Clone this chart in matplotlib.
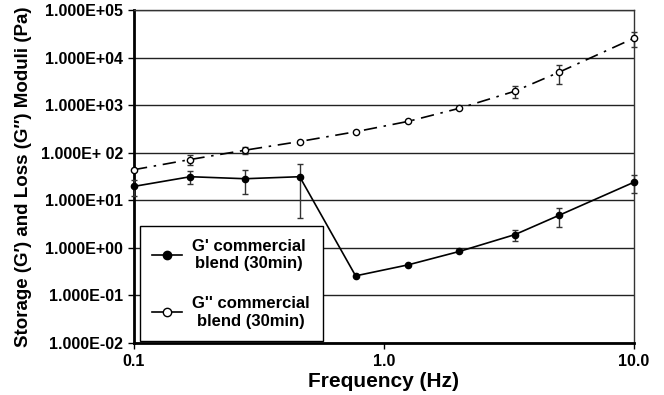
import matplotlib.pyplot as plt
from matplotlib.lines import Line2D
from matplotlib.ticker import FixedLocator, NullLocator

plt.rcParams['font.family'] = ['Liberation Sans', 'DejaVu Sans']
plt.rcParams['font.weight'] = 'bold'

# frequency (Hz)
freq = [0.1, 0.168, 0.278, 0.46, 0.77, 1.25, 2.0, 3.34, 5.0, 10.0]
# storage modulus G' and its error
g1 = [19.6, 31.3, 28.4, 31.3, 0.258, 0.44, 0.84, 1.9, 4.8, 24.0]
g1_err = [7.5, 9.5, 15, 27, 0, 0, 0, 0.5, 2.0, 10]
# loss modulus G'' and its error
g2 = [44, 72, 113, 172, 276, 456, 858, 1966, 4890, 25600]
g2_err = [0, 17, 21, 0, 0, 0, 0, 530, 2040, 8600]

ytick_vals = [1e-2, 1e-1, 1e0, 1e1, 1e2, 1e3, 1e4, 1e5]
ytick_labels = ["1.000E-02", "1.000E-01", "1.000E+00", "1.000E+01",
                "1.000E+ 02", "1.000E+03", "1.000E+04", "1.000E+05"]
xtick_vals = [0.1, 1.0, 10.0]
xtick_labels = ["0.1", "1.0", "10.0"]
labels = ["G' commercial\nblend (30min)", "G'' commercial\nblend (30min)"]

fig = plt.figure(figsize=(6.64, 3.95), dpi=100)
ax = fig.add_axes([0.2018, 0.1316, 0.753, 0.8431])

ax.set_xscale('log')
ax.set_yscale('log')
ax.set_xlim(0.1, 10.0)
ax.set_ylim(1e-2, 1e5)

# horizontal gridlines at each decade
for v in ytick_vals:
    ax.axhline(v, color='#222222', lw=1.0, zorder=1)

ax.errorbar(freq, g1, yerr=g1_err, color='black', ecolor='#333333', lw=1.2,
            elinewidth=1.0, capsize=2, marker='o', ms=4.5, mfc='black',
            zorder=3, clip_on=False)
ax.errorbar(freq, g2, yerr=g2_err, color='black', ecolor='#333333', lw=1.2,
            elinewidth=1.0, capsize=2, marker='o', ms=4.5, mfc='white',
            ls=(0, (8, 4, 1.5, 4)), zorder=3, clip_on=False)

ax.yaxis.set_major_locator(FixedLocator(ytick_vals))
ax.yaxis.set_minor_locator(NullLocator())
ax.set_yticklabels(ytick_labels, fontsize=11.5, fontweight='bold')
ax.xaxis.set_major_locator(FixedLocator(xtick_vals))
ax.xaxis.set_minor_locator(NullLocator())
ax.set_xticklabels(xtick_labels, fontsize=11.5, fontweight='bold')
ax.tick_params(direction='out', length=4, width=1, pad=4)

for s in ['left', 'bottom']:
    ax.spines[s].set_linewidth(2)
for s in ['top', 'right']:
    ax.spines[s].set_linewidth(1)
    ax.spines[s].set_color('#333333')

ax.set_xlabel("Frequency (Hz)", fontsize=15, fontweight='bold', labelpad=2)
ax.set_ylabel("Storage (G\u2032) and Loss (G\u2033) Moduli (Pa)", fontsize=13.5,
              fontweight='bold', labelpad=6)

# legend shows plain solid lines with markers
handles = [Line2D([], [], color='black', lw=1.2, marker='o', ms=6, mfc='black'),
           Line2D([], [], color='black', lw=1.2, marker='o', ms=6, mfc='white')]
leg = ax.legend(handles, labels, loc='lower left', bbox_to_anchor=(0.012, 0.006),
                fontsize=12, frameon=True, fancybox=False, edgecolor='black',
                framealpha=1, handlelength=1.8, handletextpad=0.6,
                labelspacing=1.5, borderpad=0.75, borderaxespad=0)
leg.get_frame().set_linewidth(1)
for t in leg.get_texts():
    t.set_multialignment('center')
    t.set_fontweight('bold')

fig.savefig('out.png', dpi=100)
